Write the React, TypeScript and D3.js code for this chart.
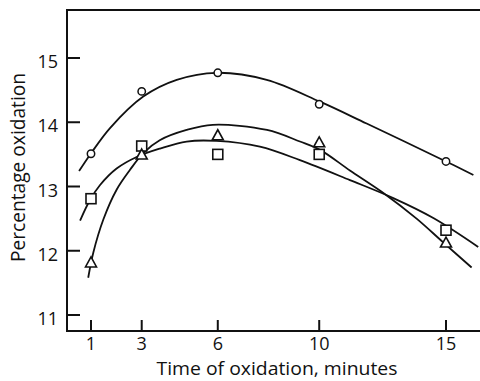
import React from "react";
import * as d3 from "d3";

// Measured points
const times = [1, 3, 6, 10, 15];
const circleVals = [13.51, 14.48, 14.77, 14.28, 13.39];
const squareVals = [12.81, 13.63, 13.5, 13.5, 12.32];
const triangleVals = [11.81, 13.49, 13.79, 13.68, 12.12];

// Hand-drawn fitted curves (knots)
const circleCurveX = [0.53, 0.99, 1.75, 3.06, 4.38, 5.96, 7.93, 10.03, 11.87, 15.0, 16.08];
const circleCurveY = [13.24, 13.51, 13.91, 14.4, 14.66, 14.77, 14.66, 14.32, 13.98, 13.39, 13.18];
const squareCurveX = [0.57, 0.96, 1.35, 2.01, 2.8, 3.72, 4.77, 5.95, 7.66, 9.24, 11.21, 12.92, 14.5, 16.27];
const squareCurveY = [12.47, 12.79, 13.02, 13.28, 13.46, 13.59, 13.7, 13.71, 13.62, 13.41, 13.1, 12.82, 12.51, 12.06];
const triangleCurveX = [0.89, 1.09, 1.49, 2.01, 2.54, 3.06, 3.71, 4.77, 5.8, 7.94, 9.24, 10.03, 11.21, 12.53, 13.84, 14.89, 16.01];
const triangleCurveY = [11.58, 11.97, 12.49, 12.95, 13.26, 13.52, 13.72, 13.88, 13.96, 13.88, 13.7, 13.57, 13.25, 12.9, 12.5, 12.13, 11.74];

const xTicks = [1, 3, 6, 10, 15];
const yTicks = [11, 12, 13, 14, 15];

const W = 480;
const H = 381;
const FONT = "'Open Sans', 'DejaVu Sans', sans-serif";

export default function App() {
  const x = d3.scaleLinear().domain([1, 15]).range([91, 446]);
  const y = d3.scaleLinear().domain([11, 15]).range([315, 58]);
  const left = 67;
  const top = 10;
  const bottom = 331;

  const line = d3
    .line<[number, number]>()
    .x((d) => x(d[0]))
    .y((d) => y(d[1]))
    .curve(d3.curveCatmullRom.alpha(0.5));

  const zip = (a: number[], b: number[]) => a.map((v, i) => [v, b[i]] as [number, number]);

  const stroke = "#111";

  return (
    <svg
      width={W}
      height={H}
      style={{ position: "absolute", left: 0, top: 0, background: "#fff" }}
    >
      <rect width={W} height={H} fill="#fff" />
      {/* frame */}
      <path
        d={`M${W},${top}H${left}V${bottom}H${W}`}
        fill="none"
        stroke={stroke}
        strokeWidth={2}
      />
      {/* y ticks */}
      {yTicks.map((t) => (
        <g key={"y" + t}>
          <line x1={left} x2={left + 13} y1={y(t)} y2={y(t)} stroke={stroke} strokeWidth={2} />
          <text
            x={58}
            y={y(t) + 10}
            textAnchor="end"
            fontFamily={FONT}
            fontSize={18}
            fill={stroke}
          >
            {t}
          </text>
        </g>
      ))}
      {/* x ticks */}
      {xTicks.map((t) => (
        <g key={"x" + t}>
          <line x1={x(t)} x2={x(t)} y1={bottom} y2={bottom - 11} stroke={stroke} strokeWidth={2} />
          <text
            x={x(t)}
            y={350}
            textAnchor="middle"
            fontFamily={FONT}
            fontSize={18}
            fill={stroke}
          >
            {t}
          </text>
        </g>
      ))}
      <text
        x={277}
        y={375}
        textAnchor="middle"
        fontFamily={FONT}
        fontSize={19}
        textLength={241}
        lengthAdjust="spacingAndGlyphs"
        fill={stroke}
      >
        Time of oxidation, minutes
      </text>
      <text
        transform="translate(25,167.5) rotate(-90)"
        textAnchor="middle"
        fontFamily={FONT}
        fontSize={20}
        textLength={189}
        lengthAdjust="spacingAndGlyphs"
        fill={stroke}
      >
        Percentage oxidation
      </text>

      {/* curves */}
      <path d={line(zip(circleCurveX, circleCurveY)) || ""} fill="none" stroke={stroke} strokeWidth={1.8} />
      <path d={line(zip(squareCurveX, squareCurveY)) || ""} fill="none" stroke={stroke} strokeWidth={1.8} />
      <path d={line(zip(triangleCurveX, triangleCurveY)) || ""} fill="none" stroke={stroke} strokeWidth={1.8} />

      {/* markers */}
      {times.map((t, i) => (
        <circle key={"c" + i} cx={x(t)} cy={y(circleVals[i])} r={3.7} fill="#fff" stroke={stroke} strokeWidth={1.5} />
      ))}
      {times.map((t, i) => (
        <rect
          key={"s" + i}
          x={x(t) - 5}
          y={y(squareVals[i]) - 5}
          width={10}
          height={10}
          fill="#fff"
          stroke={stroke}
          strokeWidth={1.6}
        />
      ))}
      {times.map((t, i) => {
        const cx = x(t);
        const cy = y(triangleVals[i]);
        return (
          <path
            key={"t" + i}
            d={`M${cx},${cy - 6}L${cx + 5.5},${cy + 4}L${cx - 5.5},${cy + 4}Z`}
            fill="#fff"
            stroke={stroke}
            strokeWidth={1.6}
          />
        );
      })}
    </svg>
  );
}
